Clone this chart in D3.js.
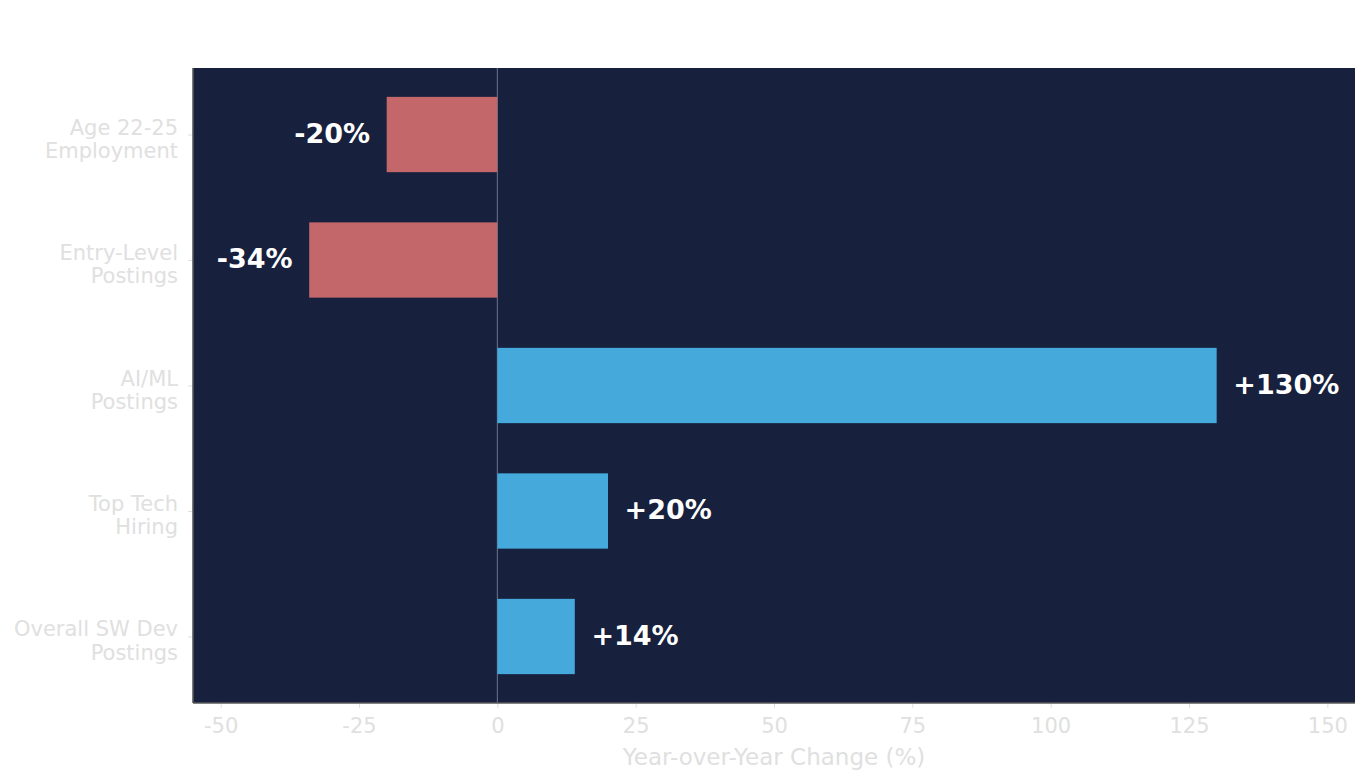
<!DOCTYPE html>
<html>
<head>
<meta charset="utf-8">
<script src="https://cdn.jsdelivr.net/npm/d3@7"></script>
<style>
  body { margin: 0; background: #ffffff; }
  text { font-family: "DejaVu Sans", sans-serif; }
</style>
</head>
<body>
<div id="chart"></div>
<script>
// categories top to bottom, label lines split on \n
var categories = ['Age 22-25\nEmployment', 'Entry-Level\nPostings', 'AI/ML\nPostings', 'Top Tech\nHiring', 'Overall SW Dev\nPostings'];
var values = [-20, -34, 130, 20, 14];
var valueLabels = ['-20%', '-34%', '+130%', '+20%', '+14%'];
var xTicks = [-50, -25, 0, 25, 50, 75, 100, 125, 150];

var width = 1370, height = 784;
var mLeft = 193, mRight = 1355, mTop = 68, mBottom = 703;

var svg = d3.select('#chart').append('svg')
  .attr('width', width)
  .attr('height', height);

var xScale = d3.scaleLinear()
  .domain([-55, 155])
  .range([mLeft, mRight]);

// bar positions as index, matplotlib-style margins
var yScale = d3.scaleLinear()
  .domain([-0.53, 4.53])
  .range([mTop, mBottom]);

var barH = 0.6;

svg.append('rect')
  .attr('x', mLeft).attr('y', mTop)
  .attr('width', mRight - mLeft).attr('height', mBottom - mTop)
  .attr('fill', '#17213d');

// zero line
svg.append('line')
  .attr('x1', xScale(0)).attr('x2', xScale(0))
  .attr('y1', mTop).attr('y2', mBottom)
  .attr('stroke', '#6b7590')
  .attr('stroke-width', 1);

svg.append('g')
  .selectAll('rect')
  .data(values)
  .enter()
  .append('rect')
  .attr('x', function(d) { return xScale(Math.min(0, d)); })
  .attr('width', function(d) { return Math.abs(xScale(d) - xScale(0)); })
  .attr('y', function(d, i) { return yScale(i - barH / 2); })
  .attr('height', yScale(barH) - yScale(0))
  .attr('fill', function(d) { return d < 0 ? '#c4676a' : '#46a9db'; });

svg.append('g')
  .selectAll('text')
  .data(values)
  .enter()
  .append('text')
  .attr('x', function(d) { return d < 0 ? xScale(d - 3) : xScale(d + 3); })
  .attr('y', function(d, i) { return yScale(i); })
  .attr('dy', '0.3em')
  .attr('text-anchor', function(d) { return d < 0 ? 'end' : 'start'; })
  .attr('fill', '#ffffff')
  .attr('font-size', '27px')
  .attr('font-weight', 'bold')
  .text(function(d, i) { return valueLabels[i]; });

// x axis
var xAxis = d3.axisBottom(xScale)
  .tickValues(xTicks)
  .tickSize(5)
  .tickPadding(10)
  .tickFormat(function(d) { return d < 0 ? '-' + Math.abs(d) : d; });

var xg = svg.append('g')
  .attr('transform', 'translate(0,' + mBottom + ')')
  .call(xAxis);
xg.select('.domain').remove();
xg.selectAll('line').attr('stroke', '#e0e0e0');
xg.selectAll('text')
  .attr('fill', '#e0e0e0')
  .attr('font-size', '21px')
  .attr('font-family', '"DejaVu Sans", sans-serif');

// y axis
var yAxis = d3.axisLeft(yScale)
  .tickValues(d3.range(categories.length))
  .tickSize(5)
  .tickFormat('');

var yg = svg.append('g')
  .attr('transform', 'translate(' + mLeft + ',0)')
  .call(yAxis);
yg.select('.domain').remove();
yg.selectAll('line').attr('stroke', '#e0e0e0');

svg.append('g')
  .selectAll('text')
  .data(categories)
  .enter()
  .append('text')
  .attr('y', function(d, i) { return yScale(i); })
  .attr('text-anchor', 'end')
  .attr('fill', '#e0e0e0')
  .attr('font-size', '21px')
  .each(function(d) {
    var lines = d.split('\n');
    var t = d3.select(this);
    lines.forEach(function(l, j) {
      t.append('tspan')
        .attr('x', mLeft - 15)
        .attr('dy', j === 0 ? '0em' : '1.1em')
        .text(l);
    });
  });

// spines
svg.append('line')
  .attr('x1', mLeft).attr('x2', mLeft)
  .attr('y1', mTop).attr('y2', mBottom)
  .attr('stroke', '#5a5a5a').attr('stroke-width', 1.6);
svg.append('line')
  .attr('x1', mLeft).attr('x2', mRight)
  .attr('y1', mBottom).attr('y2', mBottom)
  .attr('stroke', '#5a5a5a').attr('stroke-width', 1.6);

svg.append('text')
  .attr('x', (mLeft + mRight) / 2)
  .attr('y', 765)
  .attr('text-anchor', 'middle')
  .attr('fill', '#e0e0e0')
  .attr('font-size', '23px')
  .text('Year-over-Year Change (%)');
</script>
</body>
</html>
